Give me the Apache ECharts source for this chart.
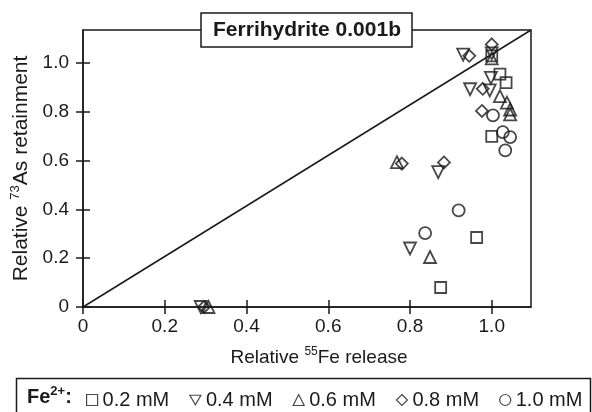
<!DOCTYPE html>
<html>
<head>
<meta charset="utf-8">
<script src="https://cdn.jsdelivr.net/npm/echarts@6/dist/echarts.min.js"></script>
<style>
html,body{margin:0;padding:0;background:#fff;}
#chart{width:592px;height:412px;}
</style>
</head>
<body>
<div id="chart"></div>
<script>
// ---- data (relative 55Fe release, relative 73As retainment) ----
const fe02 = [[1.0, 1.03], [1.02, 0.955], [1.035, 0.92], [1.0, 0.70], [0.963, 0.285], [0.875, 0.08]];
const fe04 = [[0.93, 1.035], [1.0, 1.04], [0.998, 0.94], [0.947, 0.893], [0.995, 0.888], [0.869, 0.553], [0.80, 0.24], [0.288, 0.0]];
const fe06 = [[1.0, 1.02], [1.02, 0.865], [1.037, 0.838], [1.045, 0.81], [1.045, 0.79], [0.768, 0.594], [0.849, 0.205], [0.307, 0.0]];
const fe08 = [[0.945, 1.03], [1.0, 1.077], [0.978, 0.895], [0.976, 0.804], [0.78, 0.588], [0.883, 0.593], [0.296, 0.0]];
const fe10 = [[1.003, 0.786], [1.027, 0.717], [1.045, 0.697], [1.033, 0.642], [0.919, 0.396], [0.837, 0.303]];
const diagLine = [[0, 0], [1.096, 1.136]];
const seriesNames = ['0.2 mM', '0.4 mM', '0.6 mM', '0.8 mM', '1.0 mM'];
const xRange = [0, 1.096];
const yRange = [0, 1.136];
const xTicks = [0, 0.2, 0.4, 0.6, 0.8, 1.0];
const yTicks = [0, 0.2, 0.4, 0.6, 0.8, 1.0];
const tickStep = 0.2;
const chartTitle = 'Ferrihydrite 0.001b';

const FONT = '"Liberation Sans", Arial, sans-serif';
const INK = '#1a1a1a';
const fmt = v => (v === 0 ? '0' : v.toFixed(1));
const INV_TRI = 'path://M0,0L12,0L6,10.4Z';

const chart = echarts.init(document.getElementById('chart'), null, {renderer: 'canvas'});

const hollow = {color: 'rgba(255,255,255,0)', borderColor: INK, borderWidth: 1.8};
function sc(name, data, symbol, size, rot) {
  return {
    name, type: 'scatter', data, symbol, symbolSize: size, symbolRotate: rot || 0,
    itemStyle: hollow, xAxisIndex: 0, yAxisIndex: 0, z: 3
  };
}

function richFor(size, supSize, raise) {
  return {
    n: {fontSize: size, fontFamily: FONT, color: INK},
    s: {fontSize: supSize, fontFamily: FONT, color: INK, padding: [0, 0, raise, 0]}
  };
}

const tickStyle = {color: INK, width: 1.5};

chart.setOption({
  animation: false,
  backgroundColor: '#fff',
  grid: {left: 83, right: 61, top: 30, bottom: 105, show: true, borderColor: INK, borderWidth: 1.5, backgroundColor: 'transparent'},
  xAxis: [{
    type: 'value', min: xRange[0], max: xRange[1], interval: tickStep, position: 'bottom',
    name: '{n|Relative }{s|55}{n|Fe release}', nameLocation: 'middle', nameGap: 39,
    nameTextStyle: {rich: richFor(19, 12, 11), padding: [0, 0, 0, 24]},
    axisLine: {show: true, lineStyle: {color: INK, width: 1.5}},
    axisTick: {show: true, inside: false, length: 7, lineStyle: tickStyle, customValues: xTicks},
    axisLabel: {fontSize: 19, fontFamily: FONT, color: INK, margin: 10, formatter: fmt, customValues: xTicks},
    splitLine: {show: false}
  }, {
    type: 'value', min: xRange[0], max: xRange[1], interval: tickStep, position: 'bottom', offset: 0,
    axisLine: {show: false},
    axisTick: {show: true, inside: true, length: 7, lineStyle: tickStyle, customValues: xTicks},
    axisLabel: {show: false}, splitLine: {show: false}
  }],
  yAxis: [{
    type: 'value', min: yRange[0], max: yRange[1], interval: tickStep, position: 'left',
    name: '{n|Relative }{s|73}{n|As retainment}', nameLocation: 'middle', nameGap: 43, nameRotate: 90,
    nameTextStyle: {rich: richFor(21, 13, 12)},
    axisLine: {show: true, lineStyle: {color: INK, width: 1.5}},
    axisTick: {show: true, inside: false, length: 7, lineStyle: tickStyle, customValues: yTicks},
    axisLabel: {fontSize: 19, fontFamily: FONT, color: INK, margin: 14, formatter: fmt, customValues: yTicks},
    splitLine: {show: false}
  }, {
    type: 'value', min: yRange[0], max: yRange[1], interval: tickStep, position: 'left', offset: 0,
    axisLine: {show: false},
    axisTick: {show: true, inside: true, length: 7, lineStyle: tickStyle, customValues: yTicks},
    axisLabel: {show: false}, splitLine: {show: false}
  }],
  legend: {
    data: [
      {name: seriesNames[0], icon: 'rect'},
      {name: seriesNames[1], icon: INV_TRI},
      {name: seriesNames[2], icon: 'triangle'},
      {name: seriesNames[3], icon: 'diamond'},
      {name: seriesNames[4], icon: 'circle'}
    ],
    left: 86, top: 390, padding: 0, itemGap: 20, itemTextGap: 4,
    itemWidth: 11, itemHeight: 11,
    itemStyle: {borderWidth: 1.2, borderColor: INK, color: 'rgba(255,255,255,0)'},
    textStyle: {fontSize: 20, fontFamily: FONT, color: INK},
    selectedMode: false
  },
  series: [
    {type: 'line', data: diagLine, symbol: 'none', lineStyle: {color: INK, width: 1.5}, z: 2, silent: true},
    sc(seriesNames[0], fe02, 'rect', 11),
    sc(seriesNames[1], fe04, 'triangle', 12, 180),
    sc(seriesNames[2], fe06, 'triangle', 12),
    sc(seriesNames[3], fe08, 'diamond', 12),
    sc(seriesNames[4], fe10, 'circle', 12)
  ],
  graphic: [
    {type: 'rect', z: 100, shape: {x: 201, y: 13, width: 211, height: 34},
     style: {fill: '#fff', stroke: INK, lineWidth: 1.5}},
    {type: 'text', z: 101, x: 307, y: 30,
     style: {text: chartTitle, font: 'bold 21px ' + FONT, fill: INK, align: 'center', verticalAlign: 'middle'}},
    {type: 'rect', z: 100, shape: {x: 16.5, y: 378.5, width: 574, height: 40},
     style: {fill: 'transparent', stroke: INK, lineWidth: 1.5}},
    {type: 'text', z: 101, x: 27, y: 397,
     style: {text: '{b|Fe}{s|2+}{b|:}', verticalAlign: 'middle', align: 'left', fill: INK,
       rich: {
         b: {fontSize: 20, fontWeight: 'bold', fontFamily: FONT, fill: INK},
         s: {fontSize: 13, fontWeight: 'bold', fontFamily: FONT, fill: INK, padding: [0, 0, 11, 0]}
       }}}
  ]
});
</script>
</body>
</html>
